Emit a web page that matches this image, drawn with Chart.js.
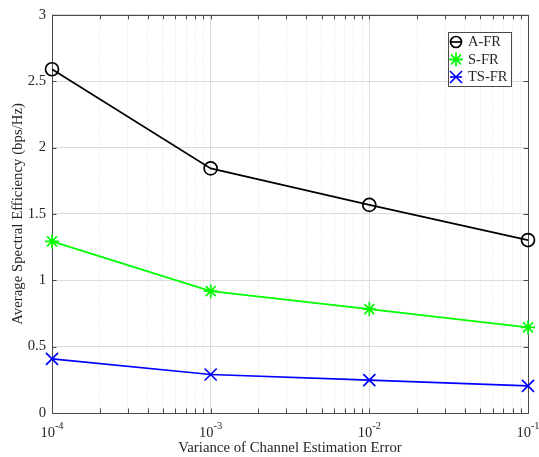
<!DOCTYPE html>
<html>
<head>
<meta charset="utf-8">
<script src="https://cdn.jsdelivr.net/npm/chart.js@4.4.1/dist/chart.umd.min.js"></script>
<style>
  html, body { margin: 0; padding: 0; background: #ffffff; }
  #wrap { width: 539px; height: 457px; }
</style>
</head>
<body>
<div id="wrap"><canvas id="c" width="539" height="457"></canvas></div>
<script>
// ---- Data ----
const xValues = [1e-4, 1e-3, 1e-2, 1e-1];
const seriesLabels = ['A-FR', 'S-FR', 'TS-FR'];
const afrValues = [2.59, 1.843, 1.568, 1.303];
const sfrValues = [1.293, 0.918, 0.783, 0.645];
const tsfrValues = [0.408, 0.29, 0.248, 0.205];

// ---- Ticks ----
const xMajorTicks = [1e-4, 1e-3, 1e-2, 1e-1];
const xTickBase = ['10', '10', '10', '10'];
const xTickExponents = ['-4', '-3', '-2', '-1'];
const xMinorMultipliers = [2, 3, 4, 5, 6, 7, 8, 9];
const yTickValues = [0, 0.5, 1, 1.5, 2, 2.5, 3];
const yTickLabels = ['0', '0.5', '1', '1.5', '2', '2.5', '3'];

const xTitle = 'Variance of Channel Estimation Error';
const yTitle = 'Average Spectral Efficiency (bps/Hz)';

const FONT = '"Liberation Serif", "Times New Roman", serif';
const AXIS_COLOR = '#4a4a4a';
const TEXT_COLOR = '#262626';

const xMinorTicks = [];
xMajorTicks.slice(0, -1).forEach(d => xMinorMultipliers.forEach(m => xMinorTicks.push(+(m * d).toPrecision(3))));

const toPts = arr => arr.map((y, i) => ({ x: xValues[i], y }));

const seriesStyles = [
  { color: '#000000', pointStyle: 'circle', radius: 6.5 },
  { color: '#00ff00', pointStyle: 'star', radius: 7 },
  { color: '#0000ff', pointStyle: 'crossRot', radius: 8.5 }
];
const seriesData = [afrValues, sfrValues, tsfrValues];

const datasets = seriesData.map((vals, i) => ({
  label: seriesLabels[i],
  data: toPts(vals),
  borderColor: seriesStyles[i].color,
  backgroundColor: 'rgba(0,0,0,0)',
  pointBorderColor: seriesStyles[i].color,
  pointBackgroundColor: 'rgba(0,0,0,0)',
  pointStyle: seriesStyles[i].pointStyle,
  pointRadius: seriesStyles[i].radius,
  pointHoverRadius: seriesStyles[i].radius,
  pointBorderWidth: 1.7,
  borderWidth: 1.7,
  tension: 0,
  fill: false,
  clip: false
}));

function drawMarker(ctx, style, x, y, r) {
  ctx.beginPath();
  if (style === 'circle') {
    ctx.arc(x, y, r, 0, Math.PI * 2);
  } else if (style === 'star') {
    ctx.moveTo(x - r, y); ctx.lineTo(x + r, y);
    ctx.moveTo(x, y - r); ctx.lineTo(x, y + r);
    const o = r * Math.SQRT1_2;
    ctx.moveTo(x - o, y - o); ctx.lineTo(x + o, y + o);
    ctx.moveTo(x - o, y + o); ctx.lineTo(x + o, y - o);
  } else {
    const o = r * Math.SQRT1_2;
    ctx.moveTo(x - o, y - o); ctx.lineTo(x + o, y + o);
    ctx.moveTo(x - o, y + o); ctx.lineTo(x + o, y - o);
  }
  ctx.stroke();
}

const framePlugin = {
  id: 'frame',
  beforeDatasetsDraw(chart) {
    const { ctx, chartArea: a, scales } = chart;
    ctx.save();
    ctx.strokeStyle = AXIS_COLOR;
    ctx.lineWidth = 1;
    ctx.strokeRect(Math.round(a.left) + 0.5, Math.round(a.top) + 0.5, Math.round(a.right - a.left), Math.round(a.bottom - a.top));
    const tl = 4.5;
    ctx.beginPath();
    scales.x.ticks.concat(scales.xMinor.ticks).forEach(t => {
      const px = Math.round(scales.x.getPixelForValue(t.value)) + 0.5;
      ctx.moveTo(px, a.bottom); ctx.lineTo(px, a.bottom - tl);
      ctx.moveTo(px, a.top); ctx.lineTo(px, a.top + tl);
    });
    scales.y.ticks.forEach(t => {
      const py = Math.round(scales.y.getPixelForValue(t.value)) + 0.5;
      ctx.moveTo(a.left, py); ctx.lineTo(a.left + tl, py);
      ctx.moveTo(a.right, py); ctx.lineTo(a.right - tl, py);
    });
    ctx.stroke();
    // x tick labels with superscript exponents
    ctx.fillStyle = TEXT_COLOR;
    ctx.textBaseline = 'alphabetic';
    ctx.textAlign = 'left';
    const fb = '14.5px ' + FONT, fe = '10.5px ' + FONT;
    xMajorTicks.forEach((v, i) => {
      const px = scales.x.getPixelForValue(v);
      ctx.font = fb;
      const wb = ctx.measureText(xTickBase[i]).width;
      ctx.font = fe;
      const we = ctx.measureText(xTickExponents[i]).width;
      const x0 = px - (wb + we) / 2;
      ctx.font = fb;
      ctx.fillText(xTickBase[i], x0, a.bottom + 23.5);
      ctx.font = fe;
      ctx.fillText(xTickExponents[i], x0 + wb, a.bottom + 16);
    });
    ctx.restore();
  },
  afterDatasetsDraw(chart) {
    const { ctx } = chart;
    ctx.save();
    const box = { x: 448.5, y: 32.5, w: 63, h: 54 };
    ctx.fillStyle = '#ffffff';
    ctx.fillRect(box.x, box.y, box.w, box.h);
    ctx.strokeStyle = AXIS_COLOR;
    ctx.lineWidth = 1;
    ctx.strokeRect(box.x, box.y, box.w, box.h);
    const rows = [42, 59.5, 77];
    chart.data.datasets.forEach((ds, i) => {
      const y = rows[i];
      const st = seriesStyles[i];
      ctx.strokeStyle = st.color;
      ctx.lineWidth = 1.7;
      ctx.beginPath();
      ctx.moveTo(450, y); ctx.lineTo(462, y);
      ctx.stroke();
      drawMarker(ctx, st.pointStyle, 456, y, st.pointStyle === 'circle' ? 5.5 : st.radius);
      ctx.fillStyle = TEXT_COLOR;
      ctx.font = '14.5px ' + FONT;
      ctx.textBaseline = 'middle';
      ctx.textAlign = 'left';
      ctx.fillText(ds.label, 468, y + 0.5);
    });
    ctx.restore();
  }
};

new Chart(document.getElementById('c'), {
  type: 'line',
  data: { datasets },
  plugins: [framePlugin],
  options: {
    responsive: false,
    animation: false,
    devicePixelRatio: 1,
    layout: { padding: { left: 0, right: 11, top: 13, bottom: 0 } },
    plugins: { legend: { display: false }, tooltip: { enabled: false } },
    scales: {
      x: {
        type: 'logarithmic',
        position: 'bottom',
        min: 1e-4,
        max: 1e-1,
        afterBuildTicks: s => { s.ticks = xMajorTicks.map(v => ({ value: v, major: true })); },
        afterFit: s => { s.height = 44; },
        ticks: { display: false },
        grid: { color: '#dcdcdc', lineWidth: 1, drawTicks: false },
        border: { display: false },
        title: {
          display: true, text: xTitle, color: TEXT_COLOR,
          font: { family: FONT, size: 14.8 },
          padding: { top: 0, bottom: 0 }
        }
      },
      xMinor: {
        type: 'logarithmic',
        position: 'bottom',
        min: 1e-4,
        max: 1e-1,
        afterBuildTicks: s => { s.ticks = xMinorTicks.map(v => ({ value: v })); },
        afterFit: s => { s.height = 0; },
        ticks: { display: false },
        grid: { color: '#d8d8d8', lineWidth: 0.8, drawTicks: false },
        border: { display: false, dash: [1, 2] }
      },
      y: {
        type: 'linear',
        min: 0,
        max: 3,
        afterBuildTicks: s => { s.ticks = yTickValues.map(v => ({ value: v })); },
        afterFit: s => { s.width = 52; },
        ticks: {
          color: TEXT_COLOR,
          font: { family: FONT, size: 14.7 },
          padding: 6,
          callback: (v, i) => yTickLabels[i]
        },
        grid: { color: '#dcdcdc', lineWidth: 1, drawTicks: false },
        border: { display: false },
        title: {
          display: true, text: yTitle, color: TEXT_COLOR,
          font: { family: FONT, size: 14.8 },
          padding: { top: 9, bottom: 0 }
        }
      }
    }
  }
});
</script>
</body>
</html>
